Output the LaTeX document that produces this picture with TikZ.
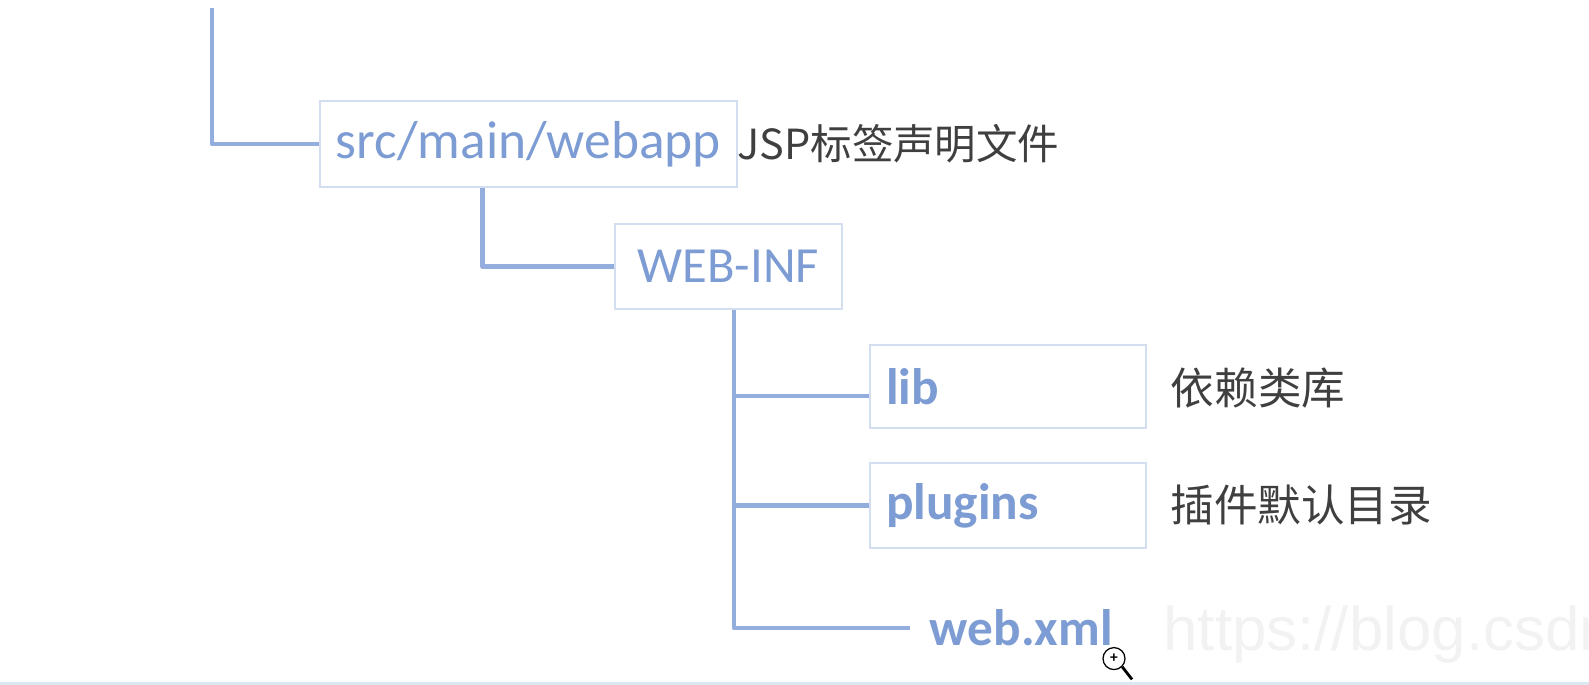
\documentclass[tikz,border=0pt]{standalone}
\usepackage{fontspec}
\usepackage{xcolor}
\usepackage{tikz}
\usetikzlibrary{positioning,calc}
\setmainfont{Carlito}
\setsansfont{Liberation Sans}
\newfontfamily\cjk{Noto Sans CJK SC}
\definecolor{treeLine}{HTML}{93AEDC}
\definecolor{treeBorder}{HTML}{D3DFF1}
\definecolor{treeText}{HTML}{7C9CD3}
\definecolor{noteText}{HTML}{3F3F3F}
\definecolor{markText}{HTML}{F2F2F2}
\definecolor{stripFill}{HTML}{DDE7F1}

\begin{document}
\begin{tikzpicture}[
    folder/.style={draw=treeBorder, line width=1.7pt, text=treeText, font=\fontsize{38}{40}\selectfont, align=center, inner sep=0pt},
    leaf/.style={folder, font=\fontsize{36.5}{40}\selectfont\bfseries, text width=6.1cm, inner xsep=0.4cm, minimum width=6.9cm, align=left},
    note/.style={font=\fontsize{31}{38}\selectfont\cjk, text=noteText, inner sep=0pt},
    branch/.style={draw=treeLine, line width=3pt, line join=round}
]
\useasboundingbox (0,0) rectangle (39.725,17.125);
\fill[stripFill] (0,0) rectangle (39.725,0.08);

\node[folder, minimum width=10.43cm, minimum height=2.15cm] (srcbox) at (13.21,13.525) {src/main/webapp};
\node[folder, font=\fontsize{36}{40}\selectfont, minimum width=5.68cm, minimum height=2.12cm] (webinf) at (18.21,10.46) {WEB-INF};
\node[leaf, minimum height=2.08cm] (libbox) at (25.20,7.46) {lib};
\node[leaf, minimum height=2.12cm] (pluginsbox) at (25.20,4.49) {plugins};
\node[text=treeText, font=\fontsize{36.5}{40}\selectfont\bfseries, inner ysep=0pt, inner xsep=0.5cm] (webxml) at (25.53,1.425) {web.xml};

\node[note, font=\fontsize{29.5}{38}\selectfont\cjk] (jspnote) at (22.46,13.525) {JSP标签声明文件};
\node[note] (libnote) at (31.45,7.42) {依赖类库};
\node[note] (pluginsnote) at (32.53,4.50) {插件默认目录};

\node[font=\fontsize{44}{46}\selectfont\sffamily, text=markText, anchor=west, inner sep=0pt] (watermark) at (29.08,1.25) {https://blog.csdn};

\node[draw=black, line width=0.9pt, circle, fill=white, minimum size=0.55cm, inner sep=0pt, font=\fontsize{11}{11}\selectfont\bfseries] (magnifier) at (27.85,0.66) {+};
\coordinate (handle) at (28.30,0.14);

\coordinate (rootline) at (5.30,16.925);
\coordinate (srcdrop) at ([xshift=-1.15cm]srcbox.south);
\coordinate (trunk) at ([xshift=0.14cm]webinf.south);

\draw[branch] (rootline) |- (srcbox.west);
\draw[branch] (srcdrop) |- (webinf.west);
\draw[branch] (trunk) |- (webxml.west);
\draw[branch] (trunk |- libbox.west) ++(0,-0.23) -- ([yshift=-0.23cm]libbox.west);
\draw[branch] (trunk |- pluginsbox.west) -- (pluginsbox.west);
\draw[line width=2pt, black] (magnifier.south east) -- (handle);
\end{tikzpicture}
\end{document}
